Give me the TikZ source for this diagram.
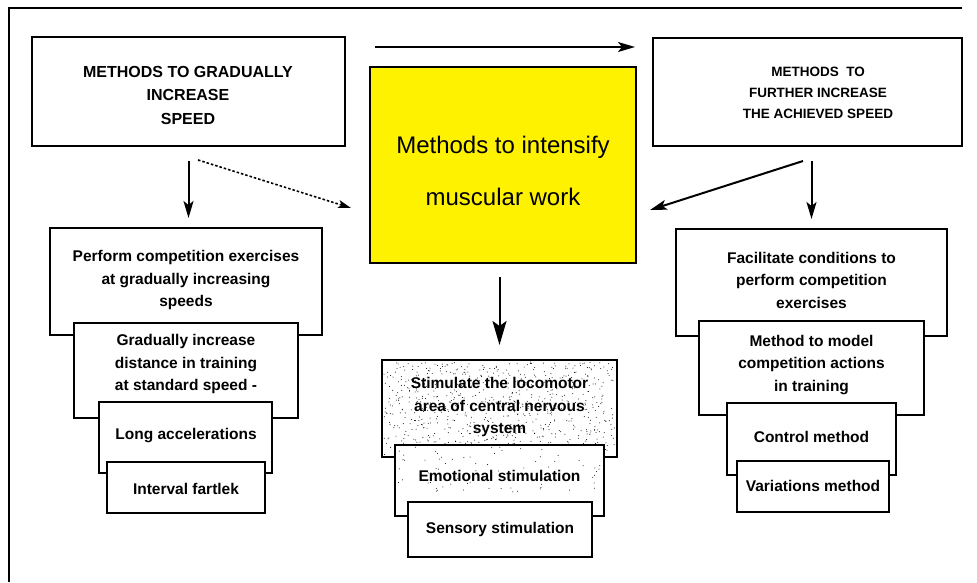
\documentclass[tikz,border=0pt]{standalone}
\usepackage{fontspec}
\setmainfont{Liberation Sans}
\usetikzlibrary{arrows.meta,fit}
\begin{document}
\begin{tikzpicture}[x=1pt,y=-1pt,
  bx/.style={draw=black, line width=2pt, fill=white, inner sep=0pt},
  txt/.style={font=\bfseries\fontsize{15.5}{22.5}\selectfont, align=center, inner sep=0pt},
  capsA/.style={font=\bfseries\fontsize{16}{23.5}\selectfont, align=center, inner sep=0pt},
  capsB/.style={font=\bfseries\fontsize{13.5}{21}\selectfont, align=center, inner sep=0pt},
  ytxt/.style={font=\fontsize{24}{52}\selectfont, align=center, inner sep=0pt},
  arr/.style={line width=2pt, -{Stealth[length=17pt,width=10pt,inset=4pt]}},
  bigarr/.style={line width=2pt, -{Stealth[length=24pt,width=14pt,inset=5pt]}},
  dotarr/.style={line width=1.6pt, dash pattern=on 2.5pt off 2pt, -{Stealth[length=13pt,width=8pt,inset=3pt]}}
]
\useasboundingbox (0,0) rectangle (977,582);
\fill[white] (0,0) rectangle (977,582);
% frame
\draw[line width=2pt] (962,8) -- (9,8) -- (9,582);

% top boxes
\node[bx, fit={(32,37)(345,146)}] (tl) {};
\node[capsA] (tlt) at (188,95) {METHODS TO GRADUALLY\\INCREASE\\SPEED};
\node[bx, fit={(653,38)(962,146)}] (tr) {};
\node[capsB] (trt) at (818,93) {METHODS\ \ TO\\FURTHER INCREASE\\THE ACHIEVED SPEED};
\node[bx, fill=yellow, fit={(370,67)(636,263)}] (y) {};
\node[ytxt] (yt) at (503,171) {Methods to intensify\\muscular work};

% left stack
\node[bx, fit={(50,228)(322,335)}] (l1) {};
\node[txt] (l1t) at (186,280) {Perform competition exercises\\at gradually increasing\\speeds};
\node[bx, fit={(74,323)(298,418)}] (l2) {};
\node[txt] (l2t) at (186,364) {Gradually increase\\distance in training\\at standard speed -};
\node[bx, fit={(99,402)(272,473)}] (l3) {};
\node[txt] (l3t) at (186,436) {Long accelerations};
\node[bx, fit={(107,462)(265,513)}] (l4) {};
\node[txt] (l4t) at (186,489) {Interval fartlek};

% middle stack
\node[bx, fit={(382,360)(617,457)}] (m1) {};
\pgfmathsetseed{7}
\foreach \i in {1,...,750} {\fill ({384+231*rnd},{362+93*rnd}) circle (0.5pt);}
\node[txt] (m1t) at (499.5,407) {Stimulate the locomotor\\area of central nervous\\system};
\node[bx, fit={(395,445)(604,516)}] (m2) {};
\foreach \i in {1,...,70} {\fill ({397+205*rnd},{447+45*rnd}) circle (0.5pt);}
\node[txt] (m2t) at (499.5,476) {Emotional stimulation};
\node[bx, fit={(408,502)(592,557)}] (m3) {};
\node[txt] (m3t) at (500,529) {Sensory stimulation};

% right stack
\node[bx, fit={(676,229)(947,336)}] (r1) {};
\node[txt] (r1t) at (811.5,280) {Facilitate conditions to\\perform competition\\exercises};
\node[bx, fit={(699,321)(924,415)}] (r2) {};
\node[txt] (r2t) at (811.5,365) {Method to model\\competition actions\\in training};
\node[bx, fit={(727,403)(896,475)}] (r3) {};
\node[txt] (r3t) at (811.5,437) {Control method};
\node[bx, fit={(737,461)(889,512)}] (r4) {};
\node[txt] (r4t) at (813,486) {Variations method};

% arrows
\coordinate (a1s) at (375,47);
\coordinate (a1e) at (635,47);
\draw[arr] (a1s) -- (a1e);
\draw[arr, shorten <=14pt, shorten >=9pt] (tl.south) -- (tl.south |- l1.north);
\coordinate (d1s) at (198,160);
\coordinate (d1e) at (351,208);
\draw[dotarr] (d1s) -- (d1e);
\coordinate (d2s) at (803,161);
\coordinate (d2e) at (650,210);
\draw[arr] (d2s) -- (d2e);
\draw[arr, shorten <=14pt, shorten >=9pt] (r1.north |- tr.south) -- (r1.north);
\draw[bigarr, shorten <=13pt, shorten >=14pt] (m1.north |- y.south) -- (m1.north);
\end{tikzpicture}
\end{document}
